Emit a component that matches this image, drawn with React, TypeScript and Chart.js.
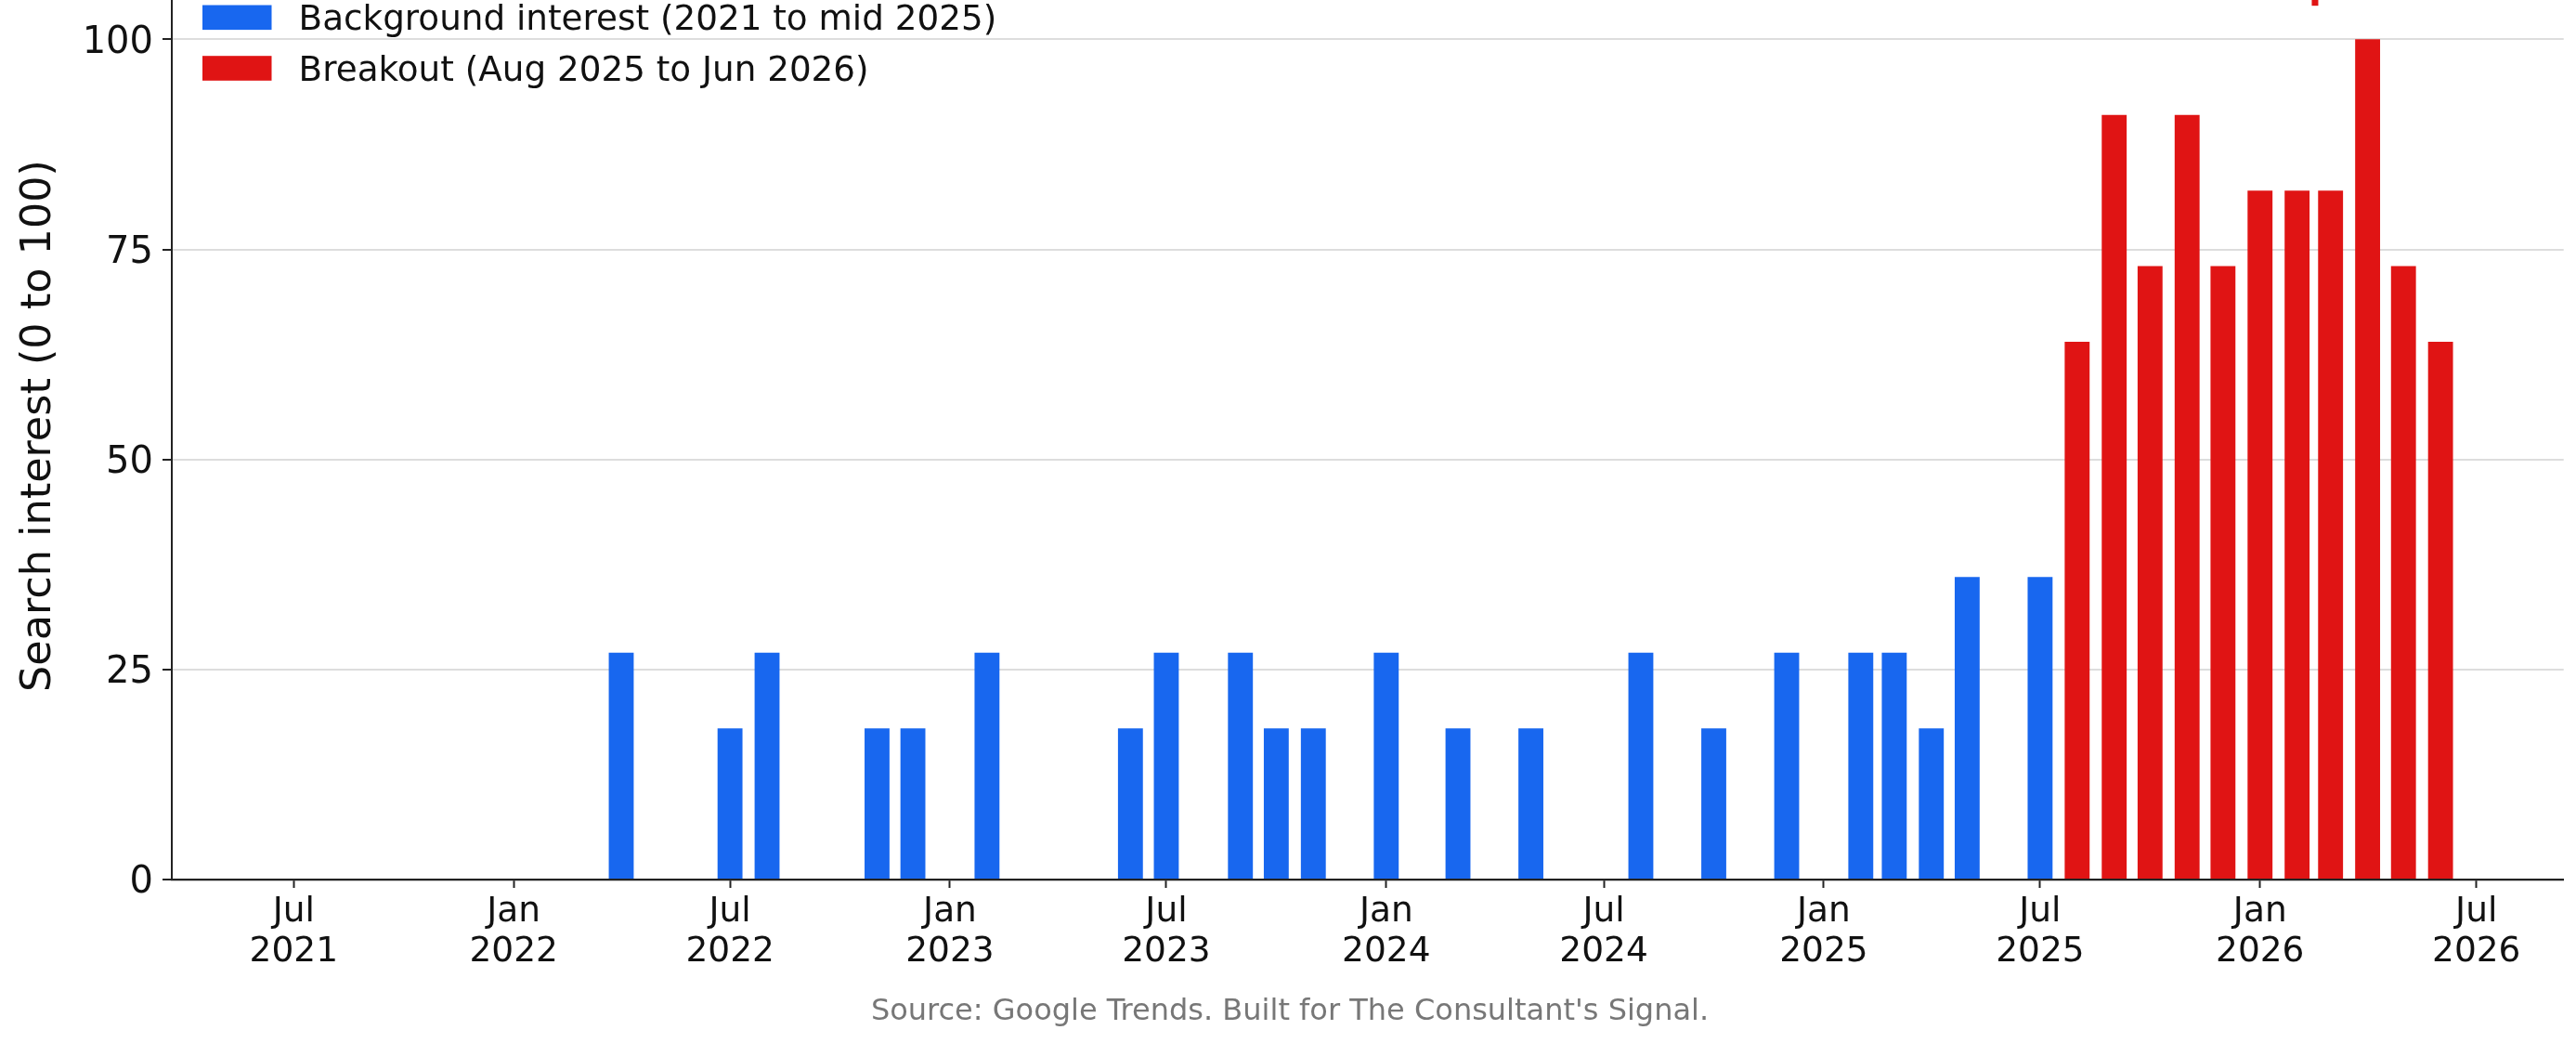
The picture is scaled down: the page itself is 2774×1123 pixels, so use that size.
import { useEffect, useRef } from 'react';
import { Chart, registerables } from 'chart.js';

Chart.register(...registerables);

// ---- Data (monthly Google Trends search interest, 0 to 100) ----
const BACKGROUND_MONTHS = [
  '2021-07', '2021-08', '2021-09', '2021-10', '2021-11', '2021-12',
  '2022-01', '2022-02', '2022-03', '2022-04', '2022-05', '2022-06',
  '2022-07', '2022-08', '2022-09', '2022-10', '2022-11', '2022-12',
  '2023-01', '2023-02', '2023-03', '2023-04', '2023-05', '2023-06',
  '2023-07', '2023-08', '2023-09', '2023-10', '2023-11', '2023-12',
  '2024-01', '2024-02', '2024-03', '2024-04', '2024-05', '2024-06',
  '2024-07', '2024-08', '2024-09', '2024-10', '2024-11', '2024-12',
  '2025-01', '2025-02', '2025-03', '2025-04', '2025-05', '2025-06',
  '2025-07',
];
const BACKGROUND_VALUES = [
  0, 0, 0, 0, 0, 0,
  0, 0, 0, 27, 0, 0,
  18, 27, 0, 0, 18, 18,
  0, 27, 0, 0, 0, 18,
  27, 0, 27, 18, 18, 0,
  27, 0, 18, 0, 18, 0,
  0, 27, 0, 18, 0, 27,
  0, 27, 27, 18, 36, 0,
  36,
];

const BREAKOUT_MONTHS = [
  '2025-08', '2025-09', '2025-10', '2025-11', '2025-12',
  '2026-01', '2026-02', '2026-03', '2026-04', '2026-05', '2026-06',
];
const BREAKOUT_VALUES = [64, 91, 73, 91, 73, 82, 82, 82, 100, 73, 64];

const SERIES_LABELS = [
  'Background interest (2021 to mid 2025)',
  'Breakout (Aug 2025 to Jun 2026)',
];

const TICK_MONTHS = [
  '2021-07', '2022-01', '2022-07', '2023-01', '2023-07', '2024-01',
  '2024-07', '2025-01', '2025-07', '2026-01', '2026-07',
];
const TICK_LABELS = [
  ['Jul', '2021'], ['Jan', '2022'], ['Jul', '2022'], ['Jan', '2023'],
  ['Jul', '2023'], ['Jan', '2024'], ['Jul', '2024'], ['Jan', '2025'],
  ['Jul', '2025'], ['Jan', '2026'], ['Jul', '2026'],
];

const X_MIN_DATE = '2021-03-21';
const X_MAX_DATE = '2026-09-12';
const Y_MAX = 108;
const Y_STEP = 25;

const ANNOTATION_DATE = '2026-02-16';
const ANNOTATION_BOTTOM = 104;

const Y_TITLE = 'Search interest (0 to 100)';
const SOURCE = "Source: Google Trends. Built for The Consultant's Signal.";

// ---- Styles ----
const BLUE = '#1867ef';
const RED = '#e01414';
const FONT = '"DejaVu Sans", "Liberation Sans", sans-serif';
const INK = '#111111';
const AXIS = '#222222';

const ORIGIN = Date.UTC(2021, 6, 1);
function dayOf(s: string): number {
  const [y, m, d] = s.split('-').map(Number);
  return (Date.UTC(y, m - 1, d || 1) - ORIGIN) / 86400000;
}

const CANVAS_W = 2778;
const CANVAS_H = 1193;
const CANVAS_SHIFT = 70;

export default function App() {
  const ref = useRef<HTMLCanvasElement>(null);

  useEffect(() => {
    document.body.style.margin = '0';
    document.body.style.overflow = 'hidden';
    const canvas = ref.current;
    if (!canvas) return;

    const legendPlugin = {
      id: 'insideLegend',
      afterDraw(chart: any) {
        const { ctx, chartArea } = chart;
        ctx.save();
        ctx.font = `37.3px ${FONT}`;
        ctx.textBaseline = 'middle';
        ctx.textAlign = 'left';
        chart.data.datasets.forEach((ds: any, i: number) => {
          const cy = chartArea.top + 48.8 + i * 54.7;
          ctx.fillStyle = ds.backgroundColor;
          ctx.fillRect(chartArea.left + 33, cy - 13.3, 74.5, 26.6);
          ctx.fillStyle = INK;
          ctx.fillText(ds.label, chartArea.left + 136.6, cy + 3.5);
        });
        ctx.restore();
      },
    };

    const annotationPlugin = {
      id: 'clippedAnnotation',
      afterDatasetsDraw(chart: any) {
        const { ctx, chartArea, scales } = chart;
        const x = scales.x.getPixelForValue(dayOf(ANNOTATION_DATE));
        const yBottom = scales.y.getPixelForValue(ANNOTATION_BOTTOM);
        ctx.save();
        ctx.fillStyle = RED;
        ctx.fillRect(x - 3.5, chartArea.top, 7, yBottom - chartArea.top);
        ctx.restore();
      },
    };

    const chart = new Chart(canvas, {
      type: 'bar',
      data: {
        datasets: [
          {
            label: SERIES_LABELS[0],
            data: BACKGROUND_MONTHS.map((m, i) => ({ x: dayOf(m), y: BACKGROUND_VALUES[i] })),
            backgroundColor: BLUE,
            borderWidth: 0,
            grouped: false,
            categoryPercentage: 1,
            barPercentage: 0.745,
          },
          {
            label: SERIES_LABELS[1],
            data: BREAKOUT_MONTHS.map((m, i) => ({ x: dayOf(m), y: BREAKOUT_VALUES[i] })),
            backgroundColor: RED,
            borderWidth: 0,
            grouped: false,
            categoryPercentage: 1,
            barPercentage: 0.745,
          },
        ],
      },
      options: {
        responsive: false,
        animation: false,
        devicePixelRatio: 1,
        layout: { padding: { top: 40, right: 0, bottom: 0, left: 0 } },
        plugins: {
          legend: { display: false },
          tooltip: { enabled: false },
          title: {
            display: true,
            position: 'bottom',
            text: SOURCE,
            color: '#777777',
            font: { family: FONT, size: 32, weight: 'normal' },
            padding: { top: 10, bottom: 14.4 },
          },
        },
        scales: {
          x: {
            type: 'linear',
            min: dayOf(X_MIN_DATE),
            max: dayOf(X_MAX_DATE),
            offset: false,
            afterBuildTicks: (scale: any) => {
              scale.ticks = TICK_MONTHS.map((m) => ({ value: dayOf(m) }));
            },
            afterFit: (scale: any) => {
              scale.height = 113.2;
              scale.paddingRight = 17.3;
            },
            grid: {
              offset: false,
              drawOnChartArea: false,
              drawTicks: true,
              tickLength: 9,
              tickColor: AXIS,
              tickWidth: 2,
            },
            border: { display: true, color: AXIS, width: 2.2 },
            ticks: {
              autoSkip: false,
              maxRotation: 0,
              minRotation: 0,
              padding: 5,
              color: INK,
              font: { family: FONT, size: 37.5, lineHeight: '43px' },
              callback: (value: any) => {
                const i = TICK_MONTHS.findIndex((m) => dayOf(m) === value);
                return i >= 0 ? TICK_LABELS[i] : '';
              },
            },
          },
          y: {
            min: 0,
            max: Y_MAX,
            afterFit: (scale: any) => {
              scale.width = 185;
            },
            grid: {
              color: '#dddddd',
              lineWidth: 2,
              drawTicks: true,
              tickLength: 10,
              tickColor: AXIS,
              tickWidth: 2,
            },
            border: { display: true, color: AXIS, width: 2 },
            ticks: {
              stepSize: Y_STEP,
              includeBounds: false,
              padding: 10,
              labelOffset: 4,
              color: INK,
              font: { family: FONT, size: 40 },
            },
            title: {
              display: true,
              text: Y_TITLE,
              color: INK,
              font: { family: FONT, size: 44.5 },
              padding: { top: 15.5, bottom: 0 },
            },
          },
        },
      } as any,
      plugins: [legendPlugin, annotationPlugin],
    });

    return () => chart.destroy();
  }, []);

  return (
    <div style={{ position: 'relative', width: 2774, height: 1123, overflow: 'hidden', background: '#ffffff' }}>
      <canvas
        ref={ref}
        width={CANVAS_W}
        height={CANVAS_H}
        style={{ position: 'absolute', left: 0, top: -CANVAS_SHIFT, width: CANVAS_W, height: CANVAS_H }}
      />
    </div>
  );
}
